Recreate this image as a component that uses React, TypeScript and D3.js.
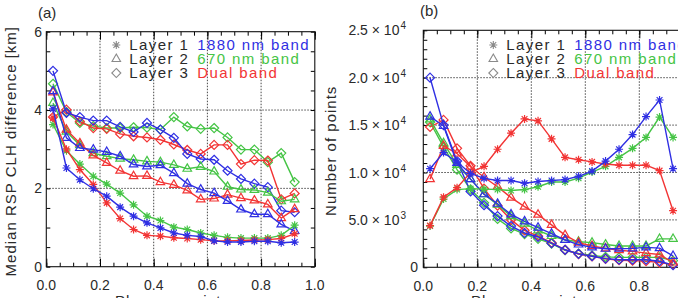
import React, { useEffect, useRef } from 'react';
import * as d3 from 'd3';

// bin centres shared by both panels
const binCenters = [0.025, 0.075, 0.125, 0.175, 0.225, 0.275, 0.325, 0.375, 0.425, 0.475, 0.525, 0.575, 0.625, 0.675, 0.725, 0.775, 0.825, 0.875, 0.925];

// (a) median RSP CLH difference [km]
const clhL1Band1880 = [4.03, 2.52, 2.22, 1.99, 1.8, 1.52, 1.29, 1.12, 0.99, 0.86, 0.8, 0.77, 0.66, 0.63, 0.63, 0.65, 0.65, 0.61, 0.63];
const clhL1Band670 = [3.63, 2.96, 2.62, 2.31, 2.11, 1.88, 1.58, 1.29, 1.18, 1.01, 0.95, 0.86, 0.8, 0.75, 0.73, 0.73, 0.73, 0.8, 1.06];
const clhL1Dual = [3.8, 3.0, 2.48, 2.1, 1.63, 1.23, 0.95, 0.8, 0.78, 0.74, 0.72, 0.69, 0.66, 0.66, 0.67, 0.68, 0.69, 0.72, 0.84];
const clhL2Band1880 = [4.48, 3.29, 3.03, 2.99, 2.93, 2.82, 2.61, 2.56, 2.59, 2.39, 2.12, 1.97, 1.88, 1.68, 1.46, 1.34, 1.34, 1.08, 0.91];
const clhL2Band670 = [4.18, 3.45, 3.1, 2.9, 2.82, 2.76, 2.73, 2.69, 2.67, 2.6, 2.5, 2.55, 2.43, 2.04, 1.97, 1.96, 1.89, 1.67, 1.72];
const clhL2Dual = [4.45, 3.5, 3.15, 2.84, 2.65, 2.45, 2.31, 2.32, 2.16, 2.09, 1.95, 1.72, 1.74, 1.84, 1.75, 1.69, 1.59, 1.24, 1.47];
const clhL3Band1880 = [5.0, 3.93, 3.82, 3.73, 3.73, 3.57, 3.44, 3.67, 3.5, 3.29, 2.88, 2.75, 2.73, 2.45, 2.24, 2.12, 2.03, 1.43, 1.39];
const clhL3Band670 = [4.67, 3.95, 3.67, 3.59, 3.54, 3.54, 3.56, 3.55, 3.5, 3.82, 3.58, 3.52, 3.54, 3.3, 2.99, 2.99, 2.67, 2.9, 2.16];
const clhL3Dual = [3.82, 4.01, 3.71, 3.54, 3.52, 3.39, 3.33, 3.3, 3.24, 3.12, 2.98, 2.88, 3.11, 3.11, 2.62, 2.72, 2.71, 1.72, 1.87];

// (b) number of points
const nL1Band1880 = [10400, 12100, 11100, 9900, 9380, 9150, 9150, 8870, 9050, 9150, 9250, 9600, 10150, 11200, 12450, 14000, 15900, 17650, 10400];
const nL1Band670 = [4350, 7200, 8200, 8300, 8250, 8200, 8100, 8200, 8500, 9000, 9000, 9400, 10050, 10650, 11600, 12550, 13700, 15850, 13700];
const nL1Dual = [4400, 7400, 8400, 10000, 10650, 12450, 14150, 15650, 15450, 13550, 11600, 11350, 11120, 10900, 10770, 10770, 10770, 10200, 5970];
const nL2Band1880 = [15900, 14900, 11000, 9300, 7700, 6700, 5580, 4850, 4180, 3550, 2880, 2400, 2100, 1950, 1960, 2000, 2100, 2020, 1200];
const nL2Band670 = [15600, 13100, 10800, 9300, 7700, 6600, 5400, 4600, 3900, 3300, 2900, 2700, 2600, 2400, 2250, 2250, 2250, 3000, 3000];
const nL2Dual = [9300, 12800, 12000, 10600, 9500, 8500, 7350, 6400, 5550, 4480, 3400, 2600, 2250, 2000, 1800, 1680, 1500, 1350, 500];
const nL3Band1880 = [20000, 15000, 11200, 8000, 6550, 5400, 4350, 3620, 3200, 2550, 1850, 1420, 1170, 920, 800, 800, 800, 640, 220];
const nL3Band670 = [15300, 12700, 10300, 8200, 6800, 5100, 4100, 3500, 3000, 2500, 1800, 1450, 1250, 1100, 1050, 1050, 1050, 1050, 700];
const nL3Dual = [14800, 15550, 12550, 10700, 8300, 6500, 5000, 3900, 3300, 2600, 1850, 1400, 1150, 900, 750, 700, 650, 500, 300];

const xTicks = [0, 0.2, 0.4, 0.6, 0.8, 1.0];
const xTickLabels = ['0.0', '0.2', '0.4', '0.6', '0.8', '1.0'];
const clhTicks = [0, 2, 4, 6];
const clhTickLabels = ['0', '2', '4', '6'];
const countTicks = [0, 5000, 10000, 15000, 20000, 25000];
const countTickMantissa = ['0', '5.0 × 10', '1.0 × 10', '1.5 × 10', '2.0 × 10', '2.5 × 10'];
const countTickExponent = ['', '3', '4', '4', '4', '4'];

const layerLabels = ['Layer 1', 'Layer 2', 'Layer 3'];
const bandLabels = ['1880 nm band', '670  nm band', 'Dual band'];
const bandColors = ['#2f2fe3', '#45c445', '#f23434'];

const FONT = '"Liberation Sans", Arial, sans-serif';
const INK = '#2a2a2a';

const asterisk = {
  draw(ctx: any, size: number) {
    const r = Math.sqrt(size) / 2;
    const d = r * 0.72;
    ctx.moveTo(-r, 0); ctx.lineTo(r, 0);
    ctx.moveTo(0, -r); ctx.lineTo(0, r);
    ctx.moveTo(-d, -d); ctx.lineTo(d, d);
    ctx.moveTo(-d, d); ctx.lineTo(d, -d);
  },
};
const symbolPaths = [
  d3.symbol().type(asterisk as any).size(64)(),
  d3.symbol().type(d3.symbolTriangle2).size(52)(),
  d3.symbol().type(d3.symbolDiamond2).size(52)(),
];

type Panel = {
  left: number; right: number; top: number; bottom: number;
  yMax: number; yMinorStep: number; yGrid: number[];
  series: number[][][]; // [layer][band]
  tag: string; tagX: number; tagY: number;
  yTitle: string; yTitleX: number;
  xTitleX: number;
  yLabels: (g: any, y: any) => void;
};

function drawPanel(svg: any, p: Panel) {
  const x = d3.scaleLinear().domain([0, 1]).range([p.left, p.right]);
  const y = d3.scaleLinear().domain([0, p.yMax]).range([p.bottom, p.top]);
  const g = svg.append('g');

  // dotted grid
  const grid = g.append('g').attr('stroke', '#333').attr('stroke-width', 0.9).attr('stroke-dasharray', '1.5,1.5');
  grid.selectAll('.gx').data(xTicks.slice(1, -1)).join('line')
    .attr('x1', (d: number) => x(d)).attr('x2', (d: number) => x(d))
    .attr('y1', p.top).attr('y2', p.bottom);
  grid.selectAll('.gy').data(p.yGrid).join('line')
    .attr('x1', p.left).attr('x2', p.right)
    .attr('y1', (d: number) => y(d)).attr('y2', (d: number) => y(d));

  // inward ticks on all four sides
  const xMinor = d3.range(0, 1.0001, 0.05);
  const yMinor = d3.range(0, p.yMax + 1e-6, p.yMinorStep);
  const tickAxis = (axis: any, tr: string) => {
    g.append('g').attr('transform', tr).call(axis).call((s: any) => s.select('.domain').remove());
  };
  const noLabel = () => '';
  tickAxis(d3.axisBottom(x).tickValues(xTicks).tickSizeInner(-8).tickSizeOuter(0).tickFormat(noLabel), `translate(0,${p.bottom})`);
  tickAxis(d3.axisBottom(x).tickValues(xMinor).tickSizeInner(-4).tickSizeOuter(0).tickFormat(noLabel), `translate(0,${p.bottom})`);
  tickAxis(d3.axisTop(x).tickValues(xTicks).tickSizeInner(-8).tickSizeOuter(0).tickFormat(noLabel), `translate(0,${p.top})`);
  tickAxis(d3.axisTop(x).tickValues(xMinor).tickSizeInner(-4).tickSizeOuter(0).tickFormat(noLabel), `translate(0,${p.top})`);
  tickAxis(d3.axisLeft(y).tickValues(yMinor).tickSizeInner(-4).tickSizeOuter(0).tickFormat(noLabel), `translate(${p.left},0)`);
  tickAxis(d3.axisRight(y).tickValues(yMinor).tickSizeInner(-4).tickSizeOuter(0).tickFormat(noLabel), `translate(${p.right},0)`);

  g.append('rect')
    .attr('x', p.left).attr('y', p.top)
    .attr('width', p.right - p.left).attr('height', p.bottom - p.top)
    .attr('fill', 'none').attr('stroke', '#111').attr('stroke-width', 1.1);

  // series: lines, then markers
  const line = d3.line<number>().x((_, i) => x(binCenters[i])).y(v => y(v));
  for (let layer = 2; layer >= 0; layer--) {
    [1, 2, 0].forEach(band => {
      const vals = p.series[layer][band];
      g.append('path').datum(vals).attr('d', line)
        .attr('fill', 'none').attr('stroke', bandColors[band]).attr('stroke-width', 1.4);
      g.append('g').selectAll('path').data(vals).join('path')
        .attr('transform', (v: number, i: number) => `translate(${x(binCenters[i])},${y(v)})`)
        .attr('d', symbolPaths[layer])
        .attr('fill', 'none').attr('stroke', bandColors[band]).attr('stroke-width', 1.2);
    });
  }

  // tick labels
  const labels = g.append('g').attr('font-family', FONT).attr('font-size', 14).attr('fill', INK);
  labels.append('g').selectAll('text').data(xTicks).join('text')
    .attr('x', (d: number) => x(d)).attr('y', p.bottom + 23.5)
    .attr('text-anchor', 'middle').text((_: number, i: number) => xTickLabels[i]);
  p.yLabels(labels, y);

  // legend
  const legend = g.append('g').attr('font-family', FONT).attr('font-size', 15)
    .attr('letter-spacing', 1.4).style('white-space', 'pre');
  [50, 64, 78].forEach((base, row) => {
    legend.append('path').attr('d', symbolPaths[row])
      .attr('transform', `translate(${p.left + 70},${base - 5})`)
      .attr('fill', 'none').attr('stroke', '#8a8a8a').attr('stroke-width', 1.1);
    legend.append('text').attr('x', p.left + 83).attr('y', base)
      .attr('fill', INK).text(layerLabels[row]);
    legend.append('text').attr('x', p.left + 151).attr('y', base)
      .attr('fill', bandColors[row]).text(bandLabels[row]);
  });

  // panel tag and axis titles
  const titles = g.append('g').attr('font-family', FONT).attr('font-size', 15).attr('fill', INK);
  titles.append('text').attr('x', p.tagX).attr('y', p.tagY).text(p.tag);
  titles.append('text')
    .attr('transform', `translate(${p.yTitleX},${(p.top + p.bottom) / 2 + 2}) rotate(-90)`)
    .attr('text-anchor', 'middle').attr('letter-spacing', 1)
    .text(p.yTitle);
  titles.append('text').attr('x', p.xTitleX).attr('y', 306).attr('text-anchor', 'middle')
    .attr('letter-spacing', 1)
    .text('Phase consistency');
}

const App = () => {
  const ref = useRef<SVGSVGElement>(null);

  useEffect(() => {
    const svg = d3.select(ref.current);
    svg.selectAll('*').remove();

    drawPanel(svg, {
      left: 46.3, right: 314.8, top: 31.7, bottom: 266.7,
      yMax: 6, yMinorStep: 0.5, yGrid: [2, 4],
      series: [
        [clhL1Band1880, clhL1Band670, clhL1Dual],
        [clhL2Band1880, clhL2Band670, clhL2Dual],
        [clhL3Band1880, clhL3Band670, clhL3Dual],
      ],
      tag: '(a)', tagX: 38, tagY: 18,
      yTitle: 'Median RSP CLH difference [km]', yTitleX: 16,
      xTitleX: 186,
      yLabels: (g, y) => {
        g.append('g').selectAll('text').data(clhTicks).join('text')
          .attr('x', 42).attr('y', (d: number) => y(d) + 5)
          .attr('text-anchor', 'end').text((_: number, i: number) => clhTickLabels[i]);
      },
    });

    drawPanel(svg, {
      left: 423.3, right: 693.3, top: 30.3, bottom: 267.3,
      yMax: 25000, yMinorStep: 1000, yGrid: [5000, 10000, 15000, 20000],
      series: [
        [nL1Band1880, nL1Band670, nL1Dual],
        [nL2Band1880, nL2Band670, nL2Dual],
        [nL3Band1880, nL3Band670, nL3Dual],
      ],
      tag: '(b)', tagX: 420, tagY: 16,
      yTitle: 'Number of points', yTitleX: 336,
      xTitleX: 542,
      yLabels: (g, y) => {
        const lab = g.append('g').selectAll('text').data(countTicks).join('text')
          .attr('x', (_: number, i: number) => (i === 0 ? 418 : 406)).attr('y', (d: number) => y(d) + 5)
          .attr('text-anchor', 'end')
          .text((_: number, i: number) => countTickMantissa[i]);
        lab.filter((_: number, i: number) => i > 0).append('tspan')
          .attr('dx', 1).attr('dy', -6).attr('font-size', 10)
          .text((_: number, i: number) => countTickExponent[i + 1]);
      },
    });
  }, []);

  return (
    <svg ref={ref} width={678} height={298}
      style={{ position: 'absolute', left: 0, top: 0, background: '#fff' }} />
  );
};

export default App;
